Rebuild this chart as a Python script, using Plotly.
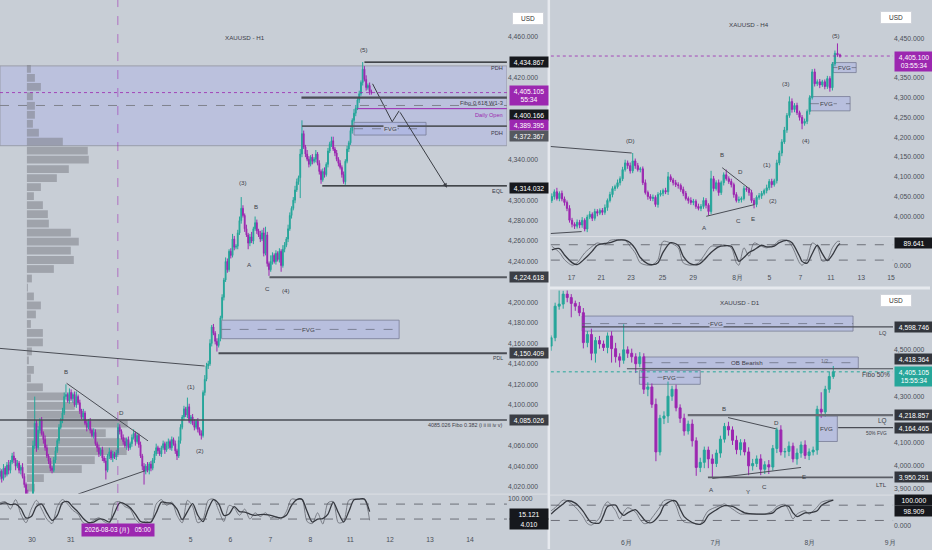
import plotly.graph_objects as go

# ======================= DATA =======================
# ---- H1 candles (bar index 0..214) ----
h1_open0 = 4030
h1_close = [4035,4028,4038,4032,4041,4036,4044,4050,4046,4040,
            4043,4036,4039,4030,4022,4012,4005,4010,4003,4060,
            4082,4058,4075,4085,4072,4066,4058,4050,4045,4038,
            4036,4046,4055,4065,4078,4085,4092,4108,4110,4104,
            4112,4106,4110,4100,4108,4102,4094,4088,4092,4082,
            4078,4084,4075,4070,4073,4062,4058,4052,4056,4048,
            4045,4036,4050,4054,4048,4052,4049,4053,4078,4074,
            4068,4064,4060,4066,4058,4062,4068,4072,4064,4070,
            4061,4050,4040,4035,4040,4036,4042,4038,4046,4052,
            4058,4055,4052,4058,4062,4056,4060,4064,4058,4066,
            4062,4055,4050,4065,4078,4088,4096,4090,4098,4084,
            4088,4082,4078,4084,4076,4072,4070,4112,4125,4138,
            4140,4160,4176,4170,4162,4158,4165,4185,4205,4222,
            4240,4232,4250,4246,4262,4254,4255,4268,4280,4292,
            4285,4272,4266,4258,4264,4260,4272,4278,4270,4266,
            4262,4268,4248,4266,4238,4232,4240,4246,4240,4248,
            4242,4250,4236,4252,4256,4262,4272,4285,4292,4300,
            4310,4318,4322,4345,4365,4352,4345,4340,4335,4342,
            4338,4340,4345,4336,4328,4320,4328,4325,4335,4348,
            4355,4358,4350,4346,4340,4336,4332,4325,4318,4338,
            4350,4356,4368,4378,4385,4390,4398,4404,4415,4428,
            4418,4410,4412,4406,4405.105]
h1_up_wick = [3,2,4,2,3,5,2,3,4,2, 3,2,2,4,3,2,5,3,2,5, 26,3,4,2,3,2,4,3,2,3,
              2,3,4,2,3,2,5,4,10,2, 4,3,2,3,5,2,3,2,4,2, 3,2,3,2,4,3,2,3,2,3,
              2,3,2,4,2,3,2,3,4,3, 2,3,4,2,3,2,3,4,2,3, 2,3,2,3,2,4,2,3,2,3,
              4,2,3,2,3,2,4,3,2,3, 2,3,2,4,3,2,3,2,9,3, 2,3,4,2,3,2,3,2,4,3,
              3,4,2,3,2,3,4,2,3,2, 4,3,2,3,5,3,2,3,4,11, 3,2,4,2,3,5,2,6,3,2,
              4,3,5,8,3,2,6,3,2,3, 2,3,2,4,3,2,4,3,2,3, 4,3,2,5,13,3,2,4,3,2,
              3,2,4,2,3,2,3,4,2,3, 2,4,4,2,3,2,3,2,3,2, 3,2,3,2,4,3,2,3,2,7,
              3,4,2,3,2]
h1_dn_wick = [3,4,2,3,2,4,3,2,3,4, 2,3,4,2,3,4,5,3,6,2, 3,4,2,3,2,4,3,2,3,3,
              3,2,3,2,3,2,3,2,3,2, 3,2,4,2,3,2,3,2,3,2, 4,2,3,2,3,2,4,3,2,3,
              2,9,2,3,2,4,2,3,2,3, 2,3,2,4,3,2,3,2,4,2, 3,2,4,13,3,2,4,3,2,3,
              2,3,2,3,2,4,2,3,2,3, 2,3,4,2,3,2,3,2,3,2, 3,2,3,2,3,2,4,2,3,2,
              3,2,3,2,3,6,2,3,2,3, 2,3,2,3,2,3,2,3,2,3, 2,3,2,6,3,2,3,2,3,2,
              3,2,3,2,3,6,2,3,2,3, 2,3,6,2,3,2,3,2,3,2, 3,2,3,20,3,2,3,2,3,2,
              3,2,3,2,3,4,2,3,2,3, 2,3,2,3,2,3,2,3,2,3, 2,3,2,3,2,3,2,3,2,3,
              2,3,2,3,2]
h1_day_idx = [18.4, 40.8, 109.8, 132.8, 155.8, 178.8, 201.8, 224.8, 247.8, 270.8]
h1_day_lbl = ['30', '31', '5', '6', '7', '8', '11', '12', '13', '14']
h1_price_ticks = [4460, 4420, 4340, 4300, 4280, 4260, 4240, 4200, 4180, 4160, 4140,
                  4120, 4100, 4060, 4040, 4020]

# H1 stochastic
h1_osc_idx = [0,3,6,9,12,15,18,21,24,27,30,33,36,39,42,45,48,51,54,57,60,63,66,69,
              72,75,78,81,84,87,90,93,96,99,102,105,108,111,114,117,120,123,126,129,
              132,135,138,141,144,147,150,153,156,159,162,165,168,171,174,177,180,183,
              186,189,192,195,198,201,204,207,210,213]
h1_osc_k = [85,90,60,98,40,5,60,95,60,20, 2,70,98,80,55,40,5,2,15,25, 10,2,85,90,70,60,20,2,12,5,
            80,98,75,88,35,5,95,70,5,20, 95,100,55,10,75,65,35,60,20,45, 30,45,25,30,20,50,100,98,100,10,
            2,45,0,85,90,5,10,95,100,100, 100,15]
h1_osc_d = [80,85,78,80,62,25,30,70,80,45, 15,35,85,90,68,48,22,6,8,20, 18,8,45,85,80,65,40,10,6,8,
            45,88,85,82,60,18,50,82,35,10, 60,98,82,35,40,70,50,48,40,35, 38,38,35,28,25,35,75,98,99,50,
            8,20,22,40,88,45,8,50,97,100, 100,50]

# H1 volume profile (price rows, relative volume)
vp_price = [4428.3,4419.5,4410.7,4401.5,4392.2,4383.4,4374.6,4365.9,4357.1,4348.3,
            4339.5,4330.2,4321.5,4312.7,4303.9,4295.1,4286.3,4277.1,4268.3,4259.5,
            4250.7,4241.5,4232.7,4223.4,4214.6,4205.9,4197.1,4188.3,4179.0,4170.2,
            4161.0,4152.2,4143.4,4134.1,4125.9,4117.1,4108.3,4099.0,4090.2,4081.5,
            4072.2,4063.4,4054.6,4045.9,4037.1,4028.3,4019.0]
vp_vol = [4,8,14,6,8,8,6,12,36,61, 62,42,30,14,7,16,21,22,44,52,
          44,47,27,5,1,7,14,9,4,16, 16,5,2,7,4,16,38,48,56,101,
          79,100,100,68,55,17,8]

# H1 key levels
h1_lvl_price = [4434.867, 4400.166, 4389.395, 4372.367, 4314.032, 4224.618, 4150.409, 4085.026]
h1_lvl_start = [210.0, 173.7, 205.9, 174.0, 185.7, 155.3, 125.9, 0.0]
h1_zone = [4353.2, 4431.2]
h1_fvg_x = [[204.0, 245.5], [127.7, 230.0]]
h1_fvg_y = [[4363.6, 4376.0], [4164.6, 4182.7]]
h1_path_idx = [214.7, 226.0, 230.0, 257.6]
h1_path_price = [4413.7, 4376.6, 4387.3, 4312.2]
h1_diag_idx = [0.0, 117.9]
h1_diag_price = [4155.1, 4137.9]
h1_tri_up_idx = [38.4, 85.3]
h1_tri_up_price = [4121.0, 4064.7]
h1_tri_lo_idx = [45.0, 83.4]
h1_tri_lo_price = [4012.7, 4035.4]
h1_wave_txt = ['(5)', '(3)', 'B', 'A', 'C', '(4)', '(1)', '(2)', 'B', 'D']
h1_wave_idx = [209.9, 140.3, 147.8, 143.8, 154.1, 165.0, 109.8, 115.0, 38.0, 70.2]
h1_wave_price = [4446.8, 4317.0, 4293.7, 4237.0, 4213.7, 4211.7, 4118.0, 4055.6, 4132.7, 4092.7]

# ---- H4 candles ----
h4_open0 = 4040
h4_close = [4050,4062,4045,4058,4044,4035,4020,3990,3980,3975,
            3985,3978,3990,3968,3998,4005,3995,4012,4008,4015,
            4010,4022,4040,4055,4070,4075,4085,4095,4118,4135,
            4128,4115,4140,4128,4118,4120,4085,4060,4050,4045,
            4048,4030,4055,4058,4065,4062,4100,4092,4085,4080,
            4078,4068,4058,4045,4040,4035,4038,4025,4020,4025,
            4040,4028,4012,4095,4070,4085,4060,4085,4105,4095,
            4088,4080,4055,4040,4042,4045,4070,4068,4060,4040,
            4030,4048,4052,4058,4065,4072,4088,4080,4090,4135,
            4160,4188,4218,4255,4290,4270,4280,4262,4250,4235,
            4240,4265,4300,4365,4335,4340,4332,4340,4328,4348,
            4325,4385,4412,4408,4405.1]
h4_up_wick = [8,6,10,5,7,6,5,8,6,5, 7,6,8,5,6,8,5,7,6,5, 6,8,5,7,6,5,8,6,7,8,
              6,8,20,6,7,5,6,8,5,6, 7,5,6,8,5,7,12,6,5,7, 6,5,7,6,5,8,6,5,7,6,
              8,6,5,20,7,6,8,5,6,13, 6,7,5,6,8,5,7,6,5,7, 6,5,7,6,5,8,6,7,5,8,
              6,7,8,6,13,8,6,7,5,6, 7,5,6,7,8,6,7,5,6,7, 6,5,7,25,3]
h4_dn_wick = [6,8,5,7,6,8,7,6,8,7, 6,8,7,6,8,5,7,6,8,5, 7,6,8,5,7,6,5,7,6,5,
              8,7,6,8,5,7,6,5,8,6, 7,6,8,5,7,6,8,5,7,6, 8,6,7,5,8,6,7,6,5,7,
              6,8,10,6,7,5,8,6,7,5, 6,7,8,5,6,7,5,6,8,6, 10,7,6,8,5,7,6,8,5,7,
              6,8,5,7,6,8,7,6,8,15, 6,7,8,5,7,6,8,5,7,6, 10,7,6,5,4]
h4_day_idx = [7.8, 19.6, 31.3, 43.8, 55.9, 73.5, 86.1, 98.3, 110.4, 122.4, 134.2]
h4_day_lbl = ['17', '21', '23', '25', '29', '8月', '5', '7', '11', '13', '15']
h4_price_ticks = [4450, 4350, 4300, 4250, 4200, 4150, 4100, 4050, 4000]
h4_osc_idx = [0,3,5,8,10,13,16,18,21,23,26,29,31,33,35,38,40,42,44,47,50,52,55,58,60,
              63,66,68,71,73,74,76,78,80,83,85,88,90,93,95,98,99,101,103,105,107,109,111,113,114]
h4_osc_k = [74,50,22,0,9, 48,74,87,80,97, 100,97,74,48,9, 0,3,22,93,87, 68,9,0,9,35,
            74,74,80,68,9, 0,68,35,87,74, 68,80,97,97,74, 9,0,22,87,74, 16,22,68,93,93]
h4_osc_d = [60,65,40,10,2, 25,55,78,85,88, 98,98,88,65,30, 5,2,10,50,88, 78,35,5,3,18,
            50,72,76,74,35, 15,30,50,60,78, 72,75,88,97,88, 35,15,8,45,78, 45,18,40,75,85]
h4_fvg_x = [[111.3, 120.4], [102.1, 118.0]]
h4_fvg_y = [[4363.3, 4388.5], [4266.6, 4302.7]]
h4_wave_txt = ['(5)', '(3)', '(4)', '(1)', '(2)', '(D)', 'B', 'D', 'A', 'C', 'E']
h4_wave_idx = [112.6, 92.7, 100.7, 85.3, 87.6, 31.3, 67.5, 74.6, 60.4, 73.7, 79.6]
h4_wave_price = [4455.9, 4334.8, 4191.0, 4130.4, 4039.6, 4191.7, 4155.7, 4112.8, 3971.5, 3989.0, 3994.2]
h4_line_idx = [[-0.8, 31.6], [-0.8, 11.8], [61.1, 80.1], [67.4, 78.6]]
h4_line_price = [[4176.6, 4160.0], [3956.4, 3961.4], [4000.0, 4029.5], [4122.9, 4067.4]]

# ---- D1 candles ----
d1_open0 = 4516
d1_close = [4552,4688,4697,4740,4725,4700,4688,4660,4531,4566,
            4485,4540,4525,4510,4560,4505,4470,4455,4500,4485,
            4470,4440,4470,4330,4340,4265,4060,4205,4215,4300,
            4330,4250,4205,4150,4180,4108,3993,4015,4068,4030,
            4010,4055,4115,4170,4155,4110,4070,4100,4060,4000,
            4010,4030,3985,4005,3995,4075,4155,4060,4062,4085,
            4030,4055,4090,4045,4060,4068,4244,4232,4330,4385,
            4405.105]
d1_up_wick = [10,15,60,15,20,15,12,18,20,15, 25,15,20,15,15,20,25,15,110,15,
              20,15,20,15,20,15,25,15,20,65, 15,20,15,20,15,20,15,20,15,15,
              20,15,15,15,20,15,20,15,15,20, 20,15,20,15,20,15,10,20,15,20,
              15,20,15,20,15,15,15,73,15,20, 25]
d1_dn_wick = [20,15,15,20,20,60,20,15,25,20, 30,40,20,15,25,60,25,30,15,20,
              25,40,15,20,30,15,40,15,25,30, 20,15,20,20,15,25,36,20,25,40,
              60,15,20,15,25,20,20,25,15,40, 20,15,25,20,30,15,20,15,25,20,
              15,25,20,15,20,15,20,25,20,15, 10]
d1_month_idx = [18.7, 40.9, 64.2, 84.1]
d1_month_lbl = ['6月', '7月', '8月', '9月']
d1_price_ticks = [4500, 4300, 4100, 4000, 3900]
d1_osc_idx = [0,1,3,4,6,8,9,10,12,13,14,16,17,18,19,21,22,23,24,25,27,28,30,31,32,
              33,35,37,38,39,41,42,43,45,47,48,51,53,55,56,58,59,60,61,63,64,66,67,69,70]
d1_osc_k = [58,70,100,97,73, 34,8,2,30,73, 93,58,26,52,70, 52,26,8,10,30, 73,98,100,78,34,
            14,10,5,34,58, 73,78,85,65,45, 45,45,45,58,75, 83,58,26,45,58, 45,73,91,100,100]
d1_osc_d = [45,60,85,97,88, 55,30,12,10,40, 75,80,55,40,50, 62,45,25,12,12, 45,78,98,95,65,
            35,12,5,15,40, 62,72,78,75,58, 50,45,45,50,65, 78,75,50,35,50, 50,58,78,95,100]
d1_lvl_price = [4598.746, 4418.364, 4218.857, 4164.465, 3950.291]
d1_lvl_start = [7.7, 18.8, 33.9, 71.2, 38.9]
d1_box_x = [[7.7, 74.9], [22.9, 76.2], [21.9, 37.0], [65.8, 71.0]]
d1_box_y = [[4580.6, 4645.5], [4420.0, 4469.0], [4351.4, 4411.6], [4105.0, 4215.0]]
d1_box_txt = ['FVG', 'OB Bearish', 'FVG', 'FVG']
d1_box_txt_x = [41.0, 48.5, 29.3, 68.2]
d1_wave_txt = ['B', 'D', 'A', 'Y', 'C', 'E']
d1_wave_idx = [43.0, 55.9, 39.8, 48.9, 52.9, 62.8]
d1_wave_price = [4248, 4188, 3900, 3891, 3913, 3955.7]
d1_line_idx = [[40.0, 62.0], [43.9, 55.9]]
d1_line_price = [[3945.8, 3993.0], [4208.0, 4159.0]]

# ======================= STYLE / LAYOUT =======================
BG = '#c8ced6'
UP = '#26a69a'
DN = '#9c27b0'
TXT = '#3d4049'
TICK = '#4b4f59'
FONT = 'Liberation Sans'
BLACK = '#16181d'
W, H = 932, 550

def py(p):
    return 1 - p / H

def px(p):
    return p / W

H1_XR = [0, 292.1]
H4_XR = [-0.4, 135.0]
D1_XR = [-0.07, 84.83]
H1_YR = [4012.7, 4495.6]
H4_YR = [3948.8, 4546.7]
D1_YR = [3874.0, 4755.7]

fig = go.Figure()


def ohlc(open0, closes, upw, dnw):
    opens = [open0] + closes[:-1]
    highs = [max(o, c) + u for o, c, u in zip(opens, closes, upw)]
    lows = [min(o, c) - d for o, c, d in zip(opens, closes, dnw)]
    return opens, highs, lows


def candles(open0, closes, upw, dnw, xa, ya):
    o, h, l = ohlc(open0, closes, upw, dnw)
    fig.add_trace(go.Candlestick(
        x=list(range(len(closes))), open=o, high=h, low=l, close=closes,
        xaxis=xa, yaxis=ya, whiskerwidth=0,
        increasing=dict(line=dict(color=UP, width=1), fillcolor=UP),
        decreasing=dict(line=dict(color=DN, width=1), fillcolor=DN),
        showlegend=False, hoverinfo='skip'))


def osc(idx, k, d, xa, ya):
    fig.add_trace(go.Scatter(x=idx, y=k, mode='lines', xaxis=xa, yaxis=ya,
                             line=dict(color='#70747d', width=0.9, shape='spline', smoothing=0.8),
                             showlegend=False, hoverinfo='skip'))
    fig.add_trace(go.Scatter(x=idx, y=d, mode='lines', xaxis=xa, yaxis=ya,
                             line=dict(color='#35383f', width=1.3, shape='spline', smoothing=0.8),
                             showlegend=False, hoverinfo='skip'))


def seg(xr, yr, x0, x1, y0, y1, color, width=1, dash='solid', layer='above'):
    fig.add_shape(type='line', xref=xr, yref=yr, x0=x0, x1=x1, y0=y0, y1=y1,
                  line=dict(color=color, width=width, dash=dash), layer=layer)


def rect(xr, yr, x0, x1, y0, y1, fill, line='rgba(120,125,150,0.8)', layer='below'):
    fig.add_shape(type='rect', xref=xr, yref=yr, x0=x0, x1=x1, y0=y0, y1=y1,
                  fillcolor=fill, line=dict(color=line, width=1), layer=layer)


def text(xr, yr, x, y, t, size=6.2, color=TXT, xanchor='center', yanchor='middle', bg=None, yshift=0):
    kw = {}
    if bg:
        kw['bgcolor'] = bg
    fig.add_annotation(xref=xr, yref=yr, x=x, y=y, text=t, showarrow=False,
                       font=dict(family=FONT, size=size, color=color),
                       xanchor=xanchor, yanchor=yanchor, yshift=yshift, borderpad=0, **kw)


def pbox(xp, yr, y, t, bg, yshift=0, w=35, color='white'):
    fig.add_annotation(xref='paper', x=xp, xanchor='left', yref=yr, y=y, yanchor='middle',
                       text=t, showarrow=False, bgcolor=bg, width=w, align='center',
                       font=dict(family=FONT, size=6.8, color=color), borderpad=1.5, yshift=yshift)


FVG_FILL = 'rgba(165,172,232,0.45)'
FVG_TXT_BG = '#b9bfdc'

# ---------------- H1 panel ----------------
rect('x', 'y', H1_XR[0], H1_XR[1], h1_zone[0], h1_zone[1], 'rgba(168,175,232,0.40)',
     line='rgba(150,153,165,0.9)')
fig.add_trace(go.Bar(y=vp_price, x=[v / 1.739 for v in vp_vol], base=15.5, orientation='h',
                     width=7.6, marker=dict(color='rgba(125,128,136,0.55)', line=dict(width=0)),
                     xaxis='x', yaxis='y', showlegend=False, hoverinfo='skip'))
candles(h1_open0, h1_close, h1_up_wick, h1_dn_wick, 'x', 'y')
osc(h1_osc_idx, h1_osc_k, h1_osc_d, 'x2', 'y2')

for (x0, x1), (y0, y1) in zip(h1_fvg_x, h1_fvg_y):
    rect('x', 'y', x0, x1, y0, y1, FVG_FILL)
    seg('x', 'y', x0, x1, (y0 + y1) / 2, (y0 + y1) / 2, 'rgba(90,95,110,0.8)', 0.8, 'dash')
    text('x', 'y', (x0 + x1) / 2 if x1 - x0 < 50 else 178, (y0 + y1) / 2, 'FVG', size=6.2, bg=FVG_TXT_BG)

lvl_colors = [BLACK, '#4a4d55', DN, '#55585f', BLACK, '#55585f', '#4a4d55', '#4a4d55']
lvl_widths = [1.3, 2.2, 1, 1.6, 1.3, 2.2, 2.0, 1.5]
for p, s, c, w in zip(h1_lvl_price, h1_lvl_start, lvl_colors, lvl_widths):
    seg('x', 'y', s, H1_XR[1], p, p, c, w)

# current price / crosshair lines
seg('x', 'y', H1_XR[0], H1_XR[1], h1_close[-1], h1_close[-1], 'rgba(156,39,176,0.8)', 1, 'dot')
seg('x', 'y', H1_XR[0], H1_XR[1], 4392.5, 4392.5, '#7a7d86', 0.9, 'dash')
fig.add_shape(type='line', xref='x', yref='paper', x0=67.9, x1=67.9, y0=py(530), y1=1,
              line=dict(color='rgba(156,39,176,0.55)', width=1, dash='dash'))

seg('x', 'y', h1_diag_idx[0], h1_diag_idx[1], h1_diag_price[0], h1_diag_price[1], '#4a4d55', 1)
seg('x', 'y', h1_tri_up_idx[0], h1_tri_up_idx[1], h1_tri_up_price[0], h1_tri_up_price[1], '#4a4d55', 1)
seg('x', 'y', h1_tri_lo_idx[0], h1_tri_lo_idx[1], h1_tri_lo_price[0], h1_tri_lo_price[1], '#4a4d55', 1)
fig.add_trace(go.Scatter(x=h1_path_idx[:3], y=h1_path_price[:3], mode='lines', xaxis='x', yaxis='y',
                         line=dict(color='#3a3d44', width=1), showlegend=False, hoverinfo='skip'))
fig.add_annotation(xref='x', yref='y', axref='x', ayref='y', x=h1_path_idx[3], y=h1_path_price[3],
                   ax=h1_path_idx[2], ay=h1_path_price[2], showarrow=True, arrowhead=2,
                   arrowsize=0.9, arrowwidth=1, arrowcolor='#3a3d44', text='')

for t, x, y in zip(h1_wave_txt, h1_wave_idx, h1_wave_price):
    text('x', 'y', x, y, t, size=6.2)
text('x', 'y', 140.9, 4458.5, 'XAUUSD - H1', size=6.2)

R = 'right'
text('x domain', 'y', 0.995, h1_lvl_price[0], 'PDH', size=5.6, xanchor=R, yanchor='top', yshift=-2)
text('x domain', 'y', 0.995, h1_lvl_price[1], 'Fibo 0.618 W1-3', size=5.8, xanchor=R, yanchor='top', yshift=-1)
text('x domain', 'y', 0.995, h1_lvl_price[2], 'Daily Open', size=5.6, color=DN, xanchor=R, yanchor='top',
     yshift=-2)
text('x domain', 'y', 0.995, h1_lvl_price[3], 'PDH', size=5.6, xanchor=R, yanchor='top', yshift=-3)
text('x domain', 'y', 0.995, h1_lvl_price[4], 'EQL', size=5.6, xanchor=R, yanchor='top', yshift=-1)
text('x domain', 'y', 0.995, h1_lvl_price[6], 'PDL', size=5.2, xanchor=R, yanchor='top', yshift=-1)
text('x domain', 'y', 0.995, h1_lvl_price[7], '4085.026 Fibo 0.382 (i ii iii iv v)', size=5.4,
     xanchor=R, yanchor='top', yshift=-1)

# H1 price scale labels
HX = px(510.5)
pbox(HX, 'y', h1_lvl_price[0], '4,434.867', BLACK)
pbox(HX, 'y', h1_close[-1], '4,405.105<br>55:34', DN, yshift=-3)
pbox(HX, 'y', h1_lvl_price[1], '4,400.166', BLACK, yshift=-17)
pbox(HX, 'y', h1_lvl_price[2], '4,389.395', DN, yshift=-16)
pbox(HX, 'y', h1_lvl_price[3], '4,372.367', '#55585f', yshift=-10)
pbox(HX, 'y', h1_lvl_price[4], '4,314.032', BLACK, yshift=-2)
pbox(HX, 'y', h1_lvl_price[5], '4,224.618', '#3b3e45')
pbox(HX, 'y', h1_lvl_price[6], '4,150.409', '#3b3e45')
pbox(HX, 'y', h1_lvl_price[7], '4,085.026', '#3b3e45')
pbox(HX, 'y2', 15.121, '15.121', BLACK, yshift=6)
pbox(HX, 'y2', 4.010, '4.010', BLACK, yshift=-1)
fig.add_annotation(xref='paper', yref='paper', x=px(529), y=py(12.5), text='USD', showarrow=False,
                   bgcolor='white', bordercolor='#d0d3da', borderwidth=1, borderpad=2, width=26,
                   font=dict(family=FONT, size=6.5, color='#333'))
fig.add_annotation(xref='x2', yref='paper', x=67.9, y=py(538), text='2026-08-03 (月)   05:00',
                   showarrow=False, bgcolor=DN, borderpad=2, width=68,
                   font=dict(family=FONT, size=6.4, color='white'))
for v in (80, 20):
    seg('x2 domain', 'y2', 0, 1, v, v, '#555861', 0.8, 'dash')

# ---------------- H4 panel ----------------
candles(h4_open0, h4_close, h4_up_wick, h4_dn_wick, 'x3', 'y3')
osc(h4_osc_idx, h4_osc_k, h4_osc_d, 'x4', 'y4')
seg('x3', 'y3', H4_XR[0], H4_XR[1], h4_close[-1], h4_close[-1], 'rgba(156,39,176,0.8)', 1, 'dot')
for (x0, x1), (y0, y1) in zip(h4_fvg_x, h4_fvg_y):
    rect('x3', 'y3', x0, x1, y0, y1, FVG_FILL)
    seg('x3', 'y3', x0, x1, (y0 + y1) / 2, (y0 + y1) / 2, 'rgba(90,95,110,0.8)', 0.8, 'dash')
    text('x3', 'y3', (x0 + x1) / 2 - (0 if x1 - x0 < 12 else 1.5), (y0 + y1) / 2, 'FVG', size=6.2, bg=FVG_TXT_BG)
for (x0, x1), (y0, y1) in zip(h4_line_idx, h4_line_price):
    seg('x3', 'y3', x0, x1, y0, y1, '#4a4d55', 1)
for t, x, y in zip(h4_wave_txt, h4_wave_idx, h4_wave_price):
    text('x3', 'y3', x, y, t, size=6.2)
text('x3', 'y3', 78.2, 4483.6, 'XAUUSD - H4', size=6.2)
RX = px(895.5)
pbox(RX, 'y3', h4_close[-1], '4,405.100<br>03:55:34', DN, yshift=-5)
pbox(RX, 'y4', 89.641, '89.641', BLACK, yshift=-1)
fig.add_annotation(xref='paper', yref='paper', x=px(914), y=py(11), text='USD', showarrow=False,
                   bgcolor='white', bordercolor='#d0d3da', borderwidth=1, borderpad=2, width=26,
                   font=dict(family=FONT, size=6.5, color='#333'))
for v in (80, 20):
    seg('x4 domain', 'y4', 0, 1, v, v, '#555861', 0.8, 'dash')

# ---------------- D1 panel ----------------
for (x0, x1), (y0, y1) in zip(d1_box_x, d1_box_y):
    rect('x5', 'y5', x0, x1, y0, y1, FVG_FILL)
for i, ((x0, x1), (y0, y1)) in enumerate(zip(d1_box_x, d1_box_y)):
    if i < 3:
        seg('x5', 'y5', x0, x1, (y0 + y1) / 2, (y0 + y1) / 2, 'rgba(90,95,110,0.8)', 0.8, 'dash')
candles(d1_open0, d1_close, d1_up_wick, d1_dn_wick, 'x5', 'y5')
osc(d1_osc_idx, d1_osc_k, d1_osc_d, 'x6', 'y6')
seg('x5', 'y5', D1_XR[0], D1_XR[1], d1_close[-1], d1_close[-1], UP, 1, 'dot')
d1_lvl_col = ['#4a4d55', '#4a4d55', '#6a6d75', '#4a4d55', '#5a5d65']
d1_lvl_w = [1.2, 1.2, 2.2, 1.2, 1.6]
for p, s, c, w in zip(d1_lvl_price, d1_lvl_start, d1_lvl_col, d1_lvl_w):
    seg('x5', 'y5', s, D1_XR[1], p, p, c, w)
for (x0, x1), (y0, y1) in zip(d1_line_idx, d1_line_price):
    seg('x5', 'y5', x0, x1, y0, y1, '#4a4d55', 1)
for t, x, (y0, y1) in zip(d1_box_txt, d1_box_txt_x, d1_box_y):
    text('x5', 'y5', x, (y0 + y1) / 2, t, size=6.2, bg=FVG_TXT_BG)
text('x5', 'y5', 67.9, 4452, '1/2', size=5.2, color='#666a73')
for t, x, y in zip(d1_wave_txt, d1_wave_idx, d1_wave_price):
    text('x5', 'y5', x, y, t, size=6.2)
text('x5', 'y5', 46.9, 4704, 'XAUUSD - D1', size=6.2)
text('x5 domain', 'y5', 0.985, d1_lvl_price[0], 'LQ', size=5.6, xanchor=R, yanchor='top', yshift=-2)
text('x5 domain', 'y5', 0.995, d1_lvl_price[1], 'Fibo 50%', size=6.6, xanchor=R, yanchor='top', yshift=-1)
text('x5 domain', 'y5', 0.985, d1_lvl_price[2], 'LQ', size=6.4, xanchor=R, yanchor='top', yshift=-1)
text('x5 domain', 'y5', 0.985, d1_lvl_price[3], '50% FVG', size=4.8, xanchor=R, yanchor='top', yshift=-2)
text('x5 domain', 'y5', 0.985, d1_lvl_price[4], 'LTL', size=6.2, xanchor=R, yanchor='top', yshift=-3)
pbox(RX, 'y5', d1_lvl_price[0], '4,598.746', '#33363d')
pbox(RX, 'y5', d1_lvl_price[1], '4,418.364', '#33363d', yshift=10)
pbox(RX, 'y5', d1_close[-1], '4,405.105<br>15:55:34', UP, yshift=-5)
pbox(RX, 'y5', d1_lvl_price[2], '4,218.857', '#33363d')
pbox(RX, 'y5', d1_lvl_price[3], '4,164.465', '#33363d')
pbox(RX, 'y5', d1_lvl_price[4], '3,950.291', '#33363d')
pbox(RX, 'y6', 100, '100.000', BLACK, yshift=0)
pbox(RX, 'y6', 98.909, '98.909', BLACK, yshift=-11)
fig.add_annotation(xref='paper', yref='paper', x=px(913.5), y=py(301), text='USD', showarrow=False,
                   bgcolor='white', bordercolor='#d0d3da', borderwidth=1, borderpad=2, width=26,
                   font=dict(family=FONT, size=6.5, color='#333'))
for v in (80, 20):
    seg('x6 domain', 'y6', 0, 1, v, v, '#555861', 0.8, 'dash')

# ---------------- separators ----------------
SEP = '#e6e9ee'
fig.add_shape(type='line', xref='paper', yref='paper', x0=px(550), x1=px(550), y0=0, y1=1,
              line=dict(color=SEP, width=2.5))
fig.add_shape(type='line', xref='paper', yref='paper', x0=px(551), x1=1, y0=py(288.5), y1=py(288.5),
              line=dict(color=SEP, width=3))
for y, a, b in [(495, 0, 549), (237, 551, 932), (496, 551, 932)]:
    fig.add_shape(type='line', xref='paper', yref='paper', x0=px(a), x1=px(b), y0=py(y), y1=py(y),
                  line=dict(color='#dcdfe5', width=1))

# ---------------- axes ----------------
tickfont = dict(family=FONT, size=6.8, color=TICK)
base_x = dict(showgrid=False, zeroline=False, showline=False, ticks='', tickfont=tickfont, fixedrange=True)
base_y = dict(showgrid=False, zeroline=False, showline=False, ticks='', side='right', tickfont=tickfont,
              fixedrange=True)

LD = [0, px(508)]
RD = [px(552), px(895)]

fig.update_layout(
    width=W, height=H, margin=dict(l=0, r=0, t=0, b=0),
    paper_bgcolor=BG, plot_bgcolor=BG, showlegend=False, hovermode=False,
    xaxis=dict(base_x, domain=LD, range=H1_XR, anchor='y', showticklabels=False,
               rangeslider=dict(visible=False)),
    yaxis=dict(base_y, domain=[py(495), 1], range=H1_YR, anchor='x', tickvals=h1_price_ticks,
               tickformat=',.3f'),
    xaxis2=dict(base_x, domain=LD, range=H1_XR, anchor='y2', tickvals=h1_day_idx, ticktext=h1_day_lbl,
                ticklabelstandoff=5),
    yaxis2=dict(base_y, domain=[py(530), py(495)], range=[-20, 120], anchor='x2',
                tickvals=[100], ticktext=['100.000']),
    xaxis3=dict(base_x, domain=RD, range=H4_XR, anchor='y3', showticklabels=False,
                rangeslider=dict(visible=False)),
    yaxis3=dict(base_y, domain=[py(237), 1], range=H4_YR, anchor='x3', tickvals=h4_price_ticks,
                tickformat=',.3f'),
    xaxis4=dict(base_x, domain=RD, range=H4_XR, anchor='y4', tickvals=h4_day_idx, ticktext=h4_day_lbl,
                ticklabelstandoff=5),
    yaxis4=dict(base_y, domain=[py(268), py(237)], range=[-9, 112], anchor='x4',
                tickvals=[0], ticktext=['0.000']),
    xaxis5=dict(base_x, domain=RD, range=D1_XR, anchor='y5', showticklabels=False,
                rangeslider=dict(visible=False)),
    yaxis5=dict(base_y, domain=[py(496), py(291)], range=D1_YR, anchor='x5', tickvals=d1_price_ticks,
                tickformat=',.3f'),
    xaxis6=dict(base_x, domain=RD, range=D1_XR, anchor='y6', tickvals=d1_month_idx, ticktext=d1_month_lbl,
                ticklabelstandoff=8),
    yaxis6=dict(base_y, domain=[py(530), py(496)], range=[-13.7, 119.6], anchor='x6',
                tickvals=[0], ticktext=['0.000']),
)

fig.write_html('out.html', config={'staticPlot': True},
               post_script="document.body.style.margin='0px';document.body.style.padding='0px';"
                           "document.body.style.overflow='hidden';")
